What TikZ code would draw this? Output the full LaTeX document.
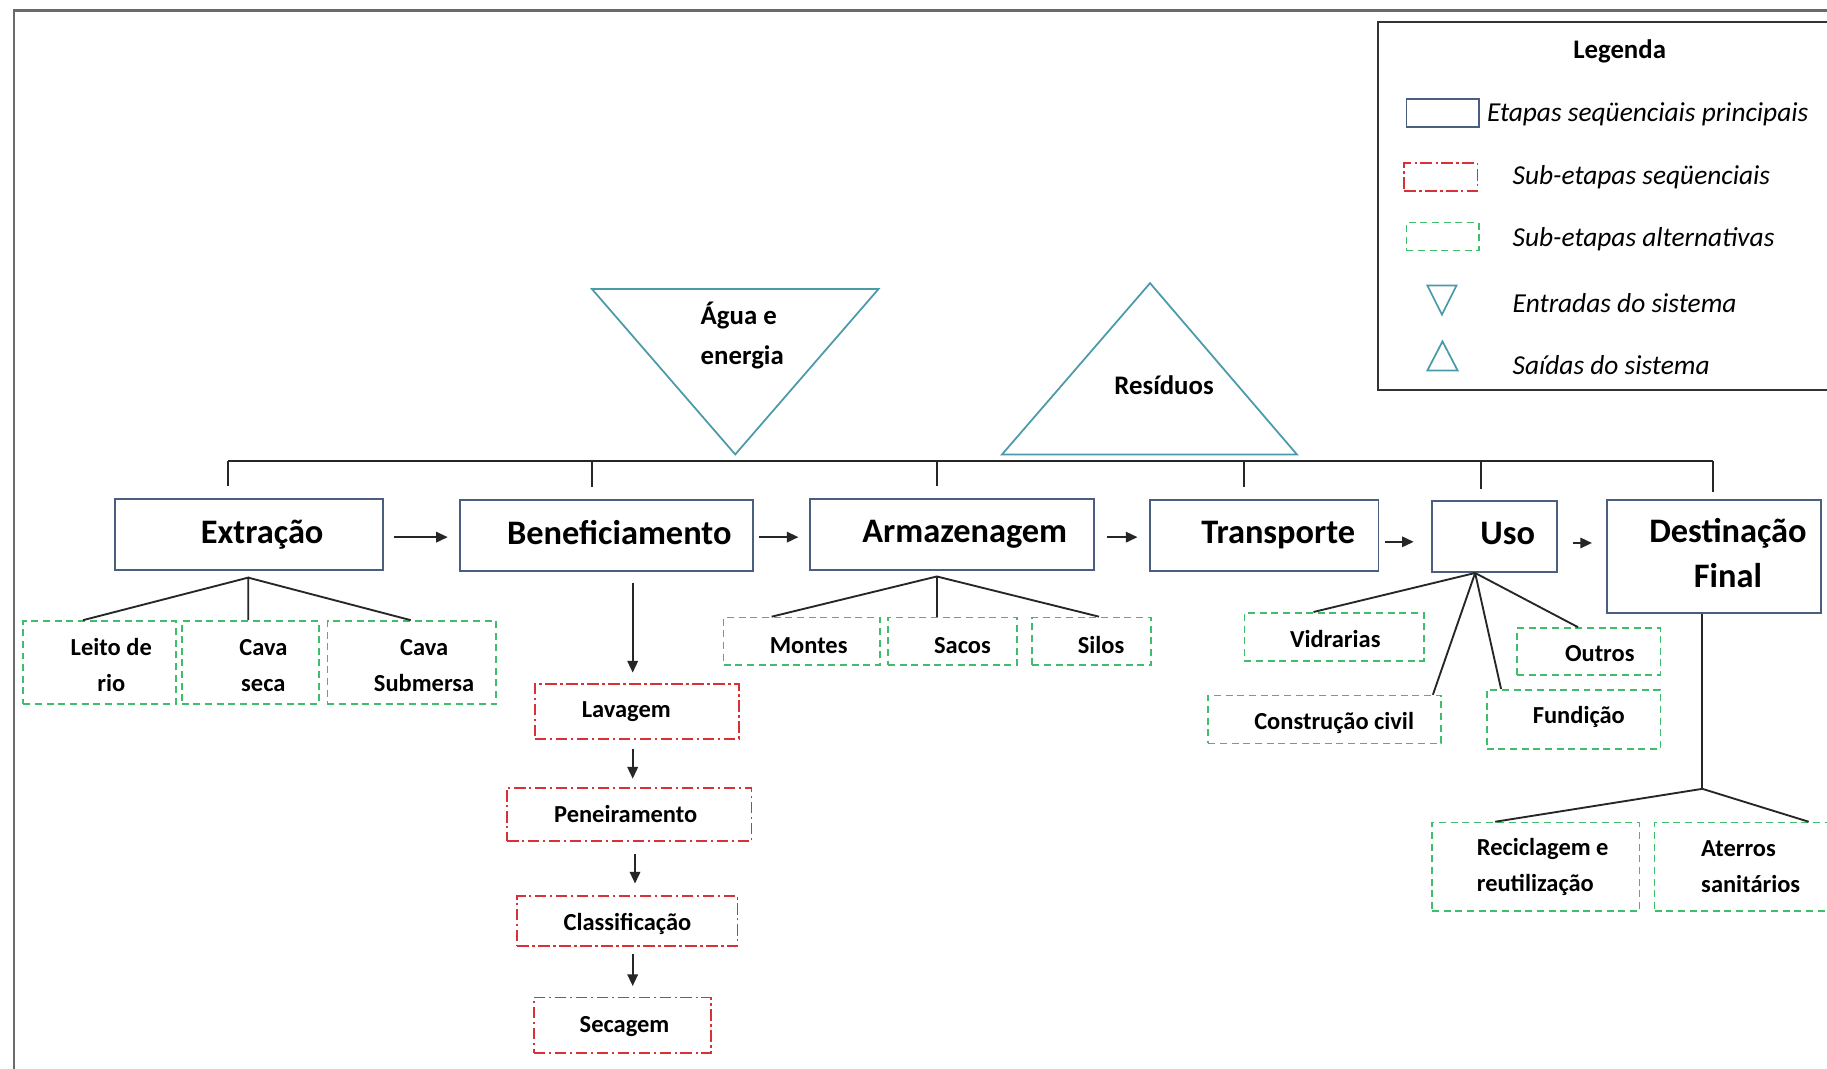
\documentclass[tikz,border=0pt]{standalone}
\usepackage{fontspec}
\setmainfont{Carlito}
\usetikzlibrary{arrows.meta,calc}
\definecolor{boxblue}{HTML}{4A5F80}
\definecolor{subred}{HTML}{D9313A}
\definecolor{altgreen}{HTML}{3DBE6B}
\definecolor{triteal}{HTML}{4A9AAA}
\definecolor{framegray}{HTML}{6A6A6A}
\newcommand{\dpt}[1]{\rule[-#1]{0pt}{#1}}
\newcommand{\htp}[1]{\rule{0pt}{#1}}
\begin{document}
\begin{tikzpicture}[x=1pt,y=-1pt,
  mainbox/.style={draw=boxblue,line width=1.5pt,minimum height=61pt,inner sep=0pt,font=\fontsize{29.5}{39}\selectfont\bfseries,align=center},
  subseq/.style={draw=subred,line width=1.5pt,dash pattern=on 10pt off 3pt on 2pt off 3pt,inner sep=0pt,font=\fontsize{21}{31}\selectfont\bfseries},
  subalt/.style={draw=altgreen,line width=1.5pt,dash pattern=on 6pt off 4pt,inner sep=0pt,font=\fontsize{21}{31}\selectfont\bfseries,align=center},
  th/.style={text height=#1,text depth=0pt},
  link/.style={draw=black!85,line width=1.6pt},
  arr/.style={link,-{Triangle[length=10pt,width=9pt]}},
  tri/.style={draw=triteal,line width=1.5pt,line join=miter},
  lbl/.style={font=\fontsize{23}{34}\selectfont\bfseries,inner sep=0pt},
  legtxt/.style={font=\fontsize{23.5}{28}\selectfont\itshape,anchor=west,inner sep=0pt}
]
\useasboundingbox (0,0) rectangle (1568,917);
\clip (0,0) rectangle (1568,917);
\fill[white] (0,0) rectangle (1568,917);

% outer frame
\draw[framegray,line width=2pt] (12,9) rectangle (1620,960);

% legend
\draw[black!80,line width=1.6pt] (1183,19) rectangle (1620,335);
\node[font=\fontsize{23}{28}\selectfont\bfseries,inner sep=0pt] (legtitle) at (1390,44) {Legenda};
\node[mainbox,minimum width=62pt,minimum height=24pt] (lg1) at (1238,97) {};
\node[legtxt] (lt1) at (1276,98) {Etapas seqüenciais principais};
\node[subseq,minimum width=63pt,minimum height=24pt] (lg2) at (1236.5,152) {};
\node[legtxt] (lt2) at (1298,152) {Sub-etapas seqüenciais};
\node[subalt,minimum width=62pt,minimum height=24pt] (lg3) at (1238,203) {};
\node[legtxt] (lt3) at (1298,205) {Sub-etapas alternativas};
\draw[tri] (1225,245) -- (1250,245) -- (1237.5,270) -- cycle;
\node[legtxt] (lt4) at (1298,260) {Entradas do sistema};
\draw[tri] (1238,293) -- (1251,318) -- (1225,318) -- cycle;
\node[legtxt] (lt5) at (1298,313) {Saídas do sistema};

% inputs / outputs
\draw[tri] (508,248) -- (754,248) -- (631,390) -- cycle;
\node[lbl,align=left] (agua) at (637,288) {Água e\\energia};
\draw[tri] (987,243) -- (1113,390) -- (860,390) -- cycle;
\node[lbl] (resid) at (999,331) {Resíduos};

% main boxes
\node[mainbox,minimum width=230pt] (ext) at (214,458.5) {\hspace*{22pt}Extração};
\node[mainbox,minimum width=251pt] (ben) at (520.5,459.5) {\hspace*{22pt}Beneficiamento\dpt{5pt}};
\node[mainbox,minimum width=244pt] (arm) at (817,458.5) {\hspace*{22pt}Armazenagem};
\node[mainbox,minimum width=196pt] (tra) at (1085,459.5) {\hspace*{24pt}Transporte};
\node[mainbox,minimum width=107pt] (uso) at (1282.5,460.5) {\hspace*{23pt}Uso\dpt{5pt}};
\node[mainbox,minimum width=184pt,minimum height=97pt] (des) at (1471,477.5) {\hspace*{24pt}Destinação\\\hspace*{24pt}Final\dpt{6pt}};

% bus
\coordinate (b1) at (196,396);
\coordinate (b2) at (508,396);
\coordinate (b3) at (804,396);
\coordinate (b4) at (1068,396);
\coordinate (b5) at (1271,396);
\coordinate (b6) at (1470,396);
\draw[link] (b1) -- (b6);
\draw[link] (b1) -- ($(ext.north -| b1)+(0,-10)$);
\draw[link] (b2) -- ($(ben.north -| b2)+(0,-10)$);
\draw[link] (b3) -- ($(arm.north -| b3)+(0,-10)$);
\draw[link] (b4) -- ($(tra.north -| b4)+(0,-10)$);
\draw[link] (b5) -- ($(uso.north -| b5)+(0,-10)$);
\draw[link] (b6) -- ($(des.north -| b6)+(0,-6)$);

% main arrows
\draw[arr] ($(ext.east)+(8,2.5)$) -- ($(ben.west)+(-10,1.5)$);
\draw[arr] ($(ben.east)+(5,1.5)$) -- ($(arm.west)+(-9,2.5)$);
\draw[arr] ($(arm.east)+(10,2.5)$) -- ($(tra.west)+(-10,1.5)$);
\draw[arr] ($(tra.east)+(5,5.5)$) -- ($(uso.west)+(-15,4.5)$);
\draw[arr] ($(uso.east)+(13,5.5)$) -- ($(des.west)+(-12,-11.5)$);

% extraction alternatives
\node[subalt,minimum width=131pt,minimum height=71pt] (leito) at (85.5,568.5) {\hspace*{20pt}Leito de\htp{19pt}\\\hspace*{20pt}rio};
\node[subalt,minimum width=118pt,minimum height=71pt] (cs) at (215,568.5) {\hspace*{22pt}Cava\htp{19pt}\\\hspace*{22pt}seca};
\node[subalt,minimum width=145pt,minimum height=71pt] (csub) at (353.5,568.5) {\hspace*{21pt}Cava\htp{19pt}\\\hspace*{21pt}Submersa};
\coordinate (extf) at ($(ext.south)+(-1,6)$);
\draw[link] ($(leito.north west)+(52,0)$) -- (extf) -- (extf |- cs.north);
\draw[link] (extf) -- ($(csub.north)+(-1,0)$);

% beneficiation sequence
\node[subseq,th=10pt,minimum width=175pt,minimum height=47pt] (lav) at (546.5,610.5) {Lavagem\hspace*{18pt}};
\node[subseq,th=13pt,minimum width=210pt,minimum height=46pt] (pen) at (540,699) {Peneiramento\hspace*{6pt}};
\node[subseq,th=17pt,minimum width=189pt,minimum height=43pt] (cla) at (538.5,790.5) {Classificação};
\node[subseq,th=13pt,minimum width=152pt,minimum height=48pt] (sec) at (534,880) {Secagem\hspace*{-4pt}};
\draw[arr] ($(ben.south)+(22.5,10)$) -- ($(lav.north)+(-3.5,-9)$);
\draw[arr] ($(lav.south)+(-3.5,8)$) -- ($(pen.north)+(3,-7)$);
\draw[arr] ($(pen.south)+(5,10)$) -- ($(cla.north)+(6.5,-10)$);
\draw[arr] ($(cla.south)+(4.5,6)$) -- ($(sec.north)+(9,-9)$);

% storage alternatives
\node[subalt,th=20pt,minimum width=134pt,minimum height=41pt] (mon) at (688,550.5) {\hspace*{12pt}Montes};
\node[subalt,th=20pt,minimum width=111pt,minimum height=41pt] (sac) at (817.5,550.5) {\hspace*{17pt}Sacos};
\node[subalt,th=20pt,minimum width=102pt,minimum height=41pt] (sil) at (937,550.5) {\hspace*{16pt}Silos};
\coordinate (armf) at ($(arm.south)+(-13,5)$);
\draw[link] ($(mon.north west)+(42,0)$) -- (armf) -- ($(sil.north west)+(58,0)$);
\draw[link] (armf) -- (armf |- sac.north);

% use alternatives
\node[subalt,th=18pt,minimum width=154pt,minimum height=41pt] (vid) at (1145,546.5) {\hspace*{2pt}Vidrarias};
\node[subalt,th=18pt,minimum width=200pt,minimum height=41pt] (con) at (1137,617.5) {\hspace*{16pt}Construção civil};
\node[subalt,th=17pt,minimum width=123pt,minimum height=40pt] (out) at (1363.5,559) {\hspace*{19pt}Outros};
\node[subalt,th=7pt,minimum width=149pt,minimum height=51pt] (fun) at (1350.5,617.5) {\hspace*{9pt}Fundição};
\coordinate (usof) at ($(uso.south)+(-16.5,0)$);
\draw[link] ($(vid.north west)+(60,0)$) -- (usof);
\draw[link] ($(con.north east)+(-8,0)$) -- (usof);
\draw[link] ($(fun.north west)+(13,0)$) -- (usof);
\draw[link] ($(out.north west)+(53,0)$) -- (usof);

% final destination alternatives
\node[subalt,minimum width=178pt,minimum height=76pt,align=left] (rec) at (1318,744) {\hspace*{12pt}Reciclagem e\\\hspace*{12pt}reutilização};
\node[subalt,minimum width=178pt,minimum height=76pt,align=left] (ate) at (1509,744) {Aterros\\sanitários\hspace*{13pt}};
\coordinate (desf) at (1461,677);
\draw[link] ($(des.south)+(-10,0)$) -- (desf);
\draw[link] ($(rec.north west)+(55,0)$) -- (desf) -- ($(ate.north west)+(133,0)$);
\end{tikzpicture}
\end{document}
